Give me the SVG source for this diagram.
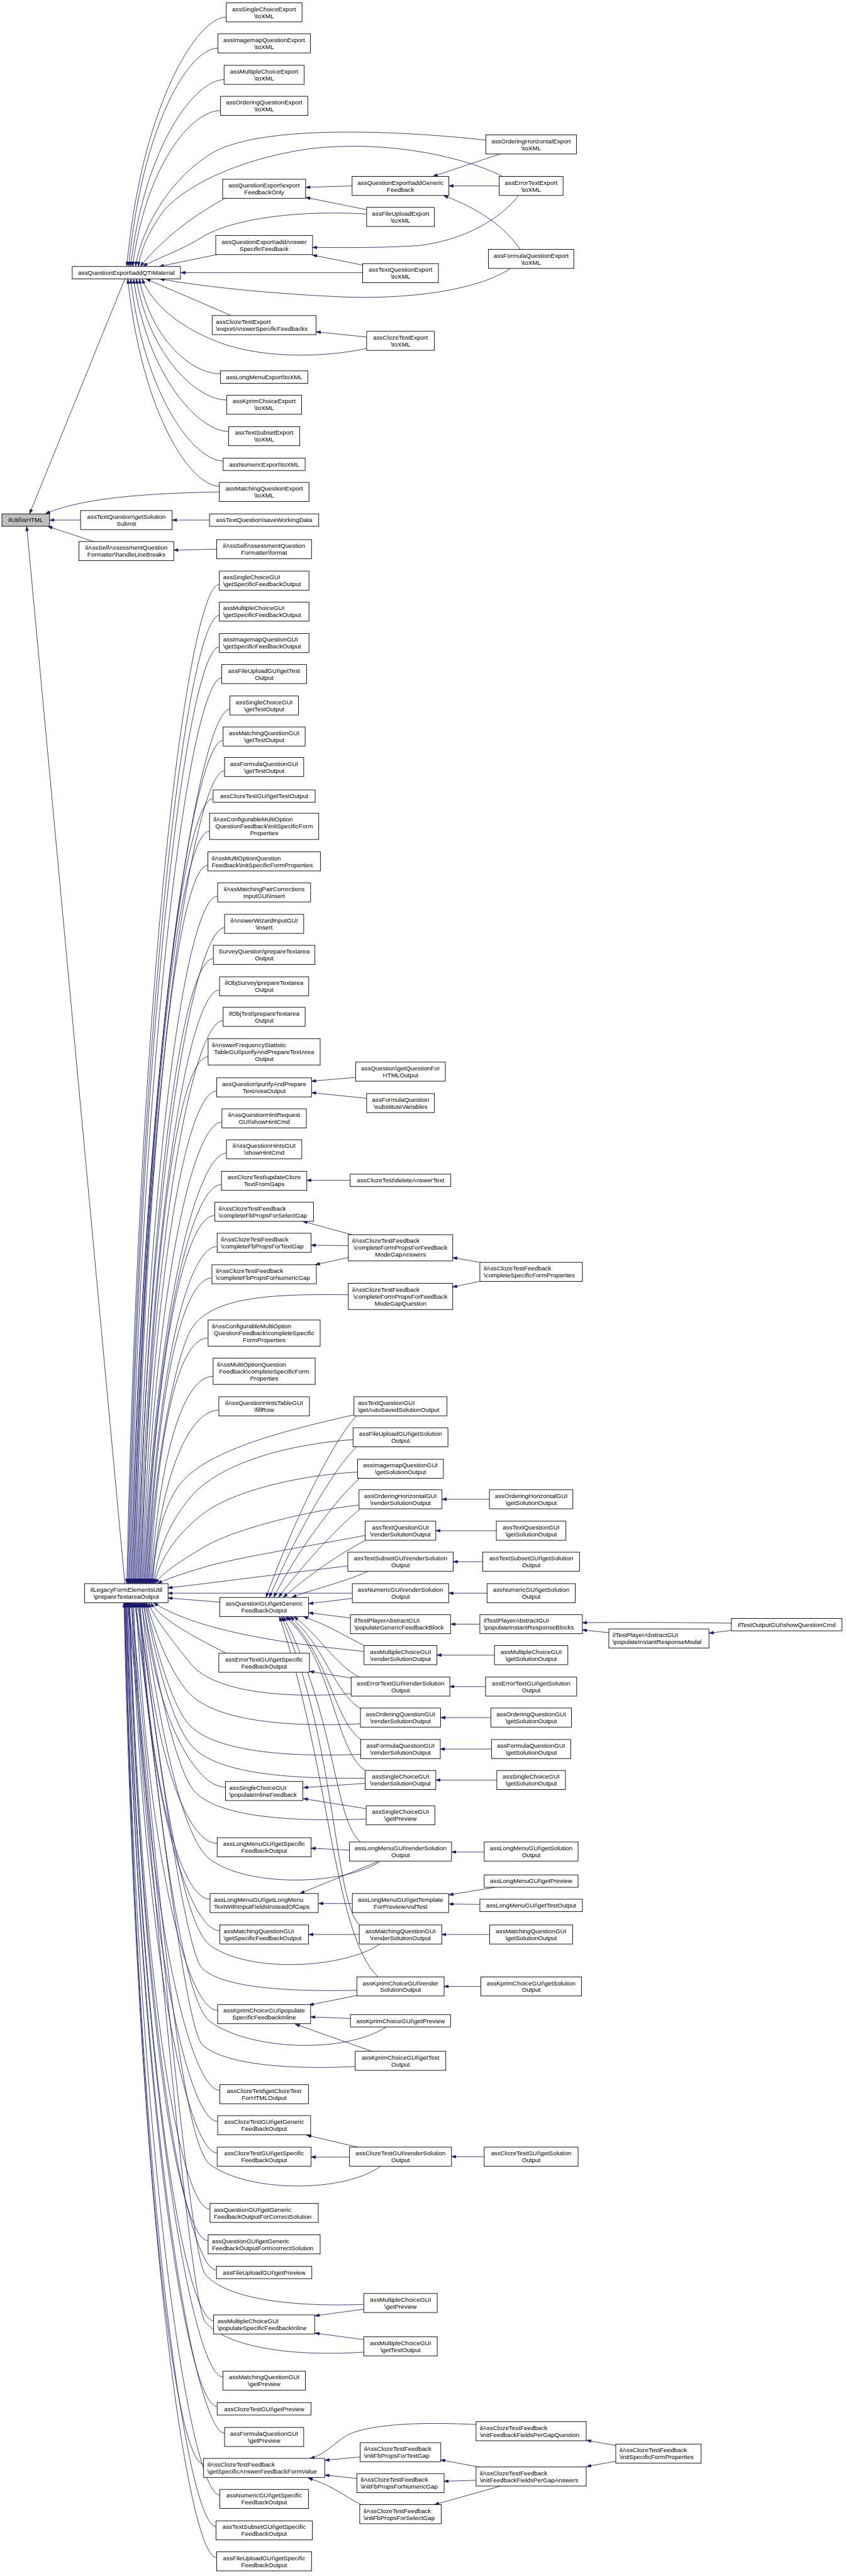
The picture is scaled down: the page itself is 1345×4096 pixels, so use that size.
<svg xmlns="http://www.w3.org/2000/svg" width="1345" height="4096" viewBox="0 0 1345 4096">
<style>
.n rect{fill:#fff;stroke:#000;stroke-width:1.2}
.root rect{fill:#bfbfbf}
.n text{font-family:"Liberation Sans",Arial,Helvetica,sans-serif;font-size:13px;fill:#000}
.n text.m{text-anchor:middle}
#edges path{fill:none;stroke:#191970;stroke-width:1.1;marker-end:url(#ah)}
</style>
<defs>
<marker id="ah" viewBox="0 0 10 7" refX="10" refY="3.5" markerWidth="10" markerHeight="7" orient="auto" markerUnits="userSpaceOnUse"><path d="M0,0 L10,3.5 L0,7 z" fill="#191970" stroke="#191970" stroke-width="0.5"/></marker>
</defs>
<rect width="1345" height="4096" fill="#fff"/>
<g transform="scale(0.758)">
<g id="edges">
<path d="M474,36 C414,36 297,219 266,559"/>
<path d="M457,101 C397,101 298,261 270,559"/>
<path d="M470,167 C410,167 303,304 274,559"/>
<path d="M462,232 C402,232 306,346 278,559"/>
<path d="M1019,294 C850,275 560,260 450,318 C360,370 300,470 284,559"/>
<path d="M1053,369 C950,320 790,295 650,312 C520,330 400,380 345,440 C315,480 296,520 290,559"/>
<path d="M472,416 C430,440 360,480 294,559"/>
<path d="M769,449 C620,440 480,460 420,500 C370,530 320,545 300,559"/>
<path d="M455,534 L334,559"/>
<path d="M760,572 L379,572"/>
<path d="M1071,563 C1000,610 850,630 700,622 C560,615 430,602 335,585"/>
<path d="M485,662 L306,585"/>
<path d="M769,731 C680,750 560,752 470,722 C380,690 320,640 298,585"/>
<path d="M462,784 C402,784 319,714 292,585"/>
<path d="M475,839 C415,839 314,750 286,585"/>
<path d="M479,905 C419,905 310,793 280,585"/>
<path d="M468,967 C408,967 303,833 274,585"/>
<path d="M460,1020 C400,1020 297,868 268,585"/>
<path d="M460,1032 C300,1035 170,1045 95,1078"/>
<path d="M262,585 L62,1078"/>
<path d="M169,1091 L104,1091"/>
<path d="M196,1136 L100,1104"/>
<path d="M262,3322 L56,1104"/>
<path d="M738,390 L641,393"/>
<path d="M769,440 L641,414"/>
<path d="M1049,323 L908,370"/>
<path d="M1047,390 L941,390"/>
<path d="M1091,523 C1060,478 1010,440 930,410"/>
<path d="M1088,410 C1040,470 960,505 880,515 C790,521 700,519 655,519"/>
<path d="M760,556 L655,535"/>
<path d="M769,707 L663,696"/>
<path d="M454,1152 L364,1154"/>
<path d="M439,1091 L361,1091"/>
<path d="M746,2260 L653,2268"/>
<path d="M769,2304 L653,2292"/>
<path d="M734,2476 L643,2476"/>
<path d="M738,2590 L635,2562"/>
<path d="M730,2613 L652,2612"/>
<path d="M730,2638 L661,2653"/>
<path d="M1006,2648 L949,2638"/>
<path d="M1006,2688 L949,2700"/>
<path d="M1026,3145 L927,3145"/>
<path d="M1041,3211 L914,3211"/>
<path d="M1012,3276 L950,3276"/>
<path d="M1021,3342 L941,3342"/>
<path d="M1006,3407 L945,3407"/>
<path d="M1037,3472 L916,3472"/>
<path d="M1018,3538 L943,3538"/>
<path d="M1029,3603 L924,3603"/>
<path d="M1031,3669 L923,3669"/>
<path d="M1042,3734 L914,3734"/>
<path d="M1534,3405 C1400,3403 1300,3403 1221,3404"/>
<path d="M1277,3425 L1221,3419"/>
<path d="M1534,3420 L1487,3426"/>
<path d="M1015,3885 L947,3885"/>
<path d="M1038,3959 L941,3975"/>
<path d="M1006,3995 L941,3994"/>
<path d="M1027,4058 L926,4058"/>
<path d="M1008,4167 L931,4167"/>
<path d="M1015,4524 L947,4524"/>
<path d="M733,3881 L652,3877"/>
<path d="M793,3905 L629,3972"/>
<path d="M739,3993 L668,3993"/>
<path d="M753,4058 L647,4058"/>
<path d="M748,4186 L648,4206"/>
<path d="M735,4234 L651,4231"/>
<path d="M780,4303 L619,4246"/>
<path d="M750,4504 L643,4479"/>
<path d="M733,4525 L652,4525"/>
<path d="M763,4844 L660,4858"/>
<path d="M763,4908 L660,4894"/>
<path d="M998,5086 C880,5080 770,5085 725,5110 C695,5130 680,5150 650,5157"/>
<path d="M755,5154 L681,5161"/>
<path d="M748,5199 L681,5192"/>
<path d="M757,5254 C720,5235 700,5215 646,5198"/>
<path d="M1004,5175 L924,5160"/>
<path d="M999,5203 L931,5205"/>
<path d="M1050,5215 L911,5254"/>
<path d="M1292,5130 L1230,5119"/>
<path d="M1292,5163 L1230,5174"/>
<path d="M461,3361 L352,3352"/>
<path d="M739,3353 L647,3364"/>
<path d="M735,3394 L647,3383"/>
<path d="M748,2970 C700,3020 620,3180 558,3351"/>
<path d="M748,3035 C700,3080 620,3220 565,3351"/>
<path d="M754,3101 C700,3150 620,3260 574,3351"/>
<path d="M755,3166 C700,3210 630,3290 584,3351"/>
<path d="M767,3231 C710,3260 640,3310 594,3351"/>
<path d="M772,3296 C720,3320 650,3335 612,3351"/>
<path d="M766,3453 C720,3430 690,3410 636,3391"/>
<path d="M755,3519 C700,3490 670,3430 616,3391"/>
<path d="M757,3585 C700,3550 680,3450 608,3391"/>
<path d="M758,3650 C700,3610 690,3470 602,3391"/>
<path d="M767,3715 C700,3670 700,3480 598,3391"/>
<path d="M757,3865 C700,3820 705,3600 594,3391"/>
<path d="M755,4039 C700,3990 705,3650 590,3391"/>
<path d="M793,4147 C700,4060 690,3700 586,3391"/>
<path d="M736,3520 L649,3506"/>
<path d="M765,3741 L636,3750"/>
<path d="M767,3794 L636,3773"/>
<path d="M460,1226 C400,1226 295,1960 266,3322"/>
<path d="M460,1291 C400,1291 297,2002 268,3322"/>
<path d="M460,1357 C400,1357 298,2045 270,3322"/>
<path d="M465,1422 C405,1422 301,2087 272,3322"/>
<path d="M482,1488 C422,1488 305,2130 274,3322"/>
<path d="M468,1553 C408,1553 305,2172 276,3322"/>
<path d="M471,1617 C411,1617 307,2214 278,3322"/>
<path d="M447,1675 C387,1675 305,2251 280,3322"/>
<path d="M439,1744 C379,1744 306,2296 282,3322"/>
<path d="M436,1815 C376,1815 307,2342 284,3322"/>
<path d="M456,1880 C396,1880 312,2385 286,3322"/>
<path d="M471,1946 C411,1946 315,2428 288,3322"/>
<path d="M447,2011 C387,2011 314,2470 290,3322"/>
<path d="M460,2077 C400,2077 317,2513 292,3322"/>
<path d="M468,2141 C408,2141 320,2554 294,3322"/>
<path d="M436,2217 C376,2217 317,2604 296,3322"/>
<path d="M454,2289 C394,2289 321,2651 298,3322"/>
<path d="M465,2354 C405,2354 325,2693 300,3322"/>
<path d="M475,2419 C415,2419 328,2735 302,3322"/>
<path d="M464,2485 C404,2485 328,2778 304,3322"/>
<path d="M450,2550 C390,2550 328,2820 306,3322"/>
<path d="M455,2615 C395,2615 330,2862 308,3322"/>
<path d="M444,2681 C384,2681 330,2905 310,3322"/>
<path d="M730,2716 C560,2714 430,2720 395,2800 S320,3100 312,3322"/>
<path d="M436,2807 C376,2807 332,2987 314,3322"/>
<path d="M447,2887 C387,2887 336,3039 316,3322"/>
<path d="M459,2958 C399,2958 339,3085 318,3322"/>
<path d="M742,2968 C600,3000 440,3040 380,3110 C340,3160 325,3240 320,3322"/>
<path d="M740,3020 C600,3030 460,3070 400,3140 C350,3200 330,3260 322,3322"/>
<path d="M750,3088 C620,3095 480,3130 420,3180 C370,3220 335,3270 324,3322"/>
<path d="M753,3157 C640,3170 480,3210 420,3250 C370,3280 340,3300 326,3322"/>
<path d="M765,3221 C640,3245 480,3270 420,3290 C380,3302 350,3312 330,3322"/>
<path d="M729,3285 C600,3300 450,3320 352,3331"/>
<path d="M739,3342 L352,3342"/>
<path d="M763,3464 C620,3450 420,3425 322,3362"/>
<path d="M474,3468 C420,3440 340,3400 316,3362"/>
<path d="M736,3553 C560,3565 440,3540 400,3490 S320,3390 312,3362"/>
<path d="M755,3616 C560,3625 440,3600 395,3550 S318,3400 308,3362"/>
<path d="M756,3680 C560,3688 430,3665 390,3610 S316,3410 306,3362"/>
<path d="M765,3730 C600,3732 450,3720 400,3660 S316,3420 304,3362"/>
<path d="M473,3749 C413,3749 328,3614 302,3362"/>
<path d="M767,3816 C600,3822 460,3810 410,3760 S312,3420 300,3362"/>
<path d="M455,3867 C395,3867 322,3690 298,3362"/>
<path d="M797,3905 C720,3955 520,3960 440,3900 S310,3430 296,3362"/>
<path d="M441,3984 C381,3984 316,3766 294,3362"/>
<path d="M461,4050 C401,4050 317,3809 292,3362"/>
<path d="M797,4078 C720,4130 520,4140 440,4080 S306,3440 290,3362"/>
<path d="M748,4175 C600,4178 470,4170 425,4130 S304,3450 288,3362"/>
<path d="M456,4217 C396,4217 312,3918 286,3362"/>
<path d="M810,4252 C720,4310 520,4300 440,4240 S302,3460 284,3362"/>
<path d="M745,4335 C600,4342 470,4330 425,4290 S300,3470 282,3362"/>
<path d="M461,4385 C401,4385 307,4027 280,3362"/>
<path d="M456,4450 C396,4450 305,4069 278,3362"/>
<path d="M455,4516 C395,4516 303,4112 276,3362"/>
<path d="M797,4545 C720,4600 520,4600 440,4540 S294,3480 274,3362"/>
<path d="M440,4634 C380,4634 297,4189 272,3362"/>
<path d="M436,4700 C376,4700 296,4232 271,3362"/>
<path d="M454,4762 C394,4762 298,4272 270,3362"/>
<path d="M763,4834 C600,4840 470,4820 430,4770 S290,3500 269,3362"/>
<path d="M448,4868 C388,4868 295,4341 268,3362"/>
<path d="M763,4934 C600,4945 470,4920 430,4870 S288,3510 267,3362"/>
<path d="M467,4986 C407,4986 296,4418 266,3362"/>
<path d="M455,5048 C395,5048 294,4458 265,3362"/>
<path d="M471,5104 C411,5104 295,4494 264,3362"/>
<path d="M427,5169 C367,5169 288,4537 263,3362"/>
<path d="M461,5234 C401,5234 292,4579 262,3362"/>
<path d="M453,5300 C393,5300 290,4622 261,3362"/>
<path d="M454,5365 C394,5365 289,4664 260,3362"/>
</g>
<g id="nodes">
<g id="n1" class="n"><rect x="474.5" y="6" width="159" height="40"/><text class="m" x="554" y="23.25">assSingleChoiceExport</text><text class="m" x="554" y="37.75">\toXML</text></g>
<g id="n2" class="n"><rect x="457" y="71" width="194" height="40"/><text class="m" x="554" y="88.25">assImagemapQuestionExport</text><text class="m" x="554" y="102.75">\toXML</text></g>
<g id="n3" class="n"><rect x="470" y="137" width="168" height="40"/><text class="m" x="554" y="154.25">assMultipleChoiceExport</text><text class="m" x="554" y="168.75">\toXML</text></g>
<g id="n4" class="n"><rect x="462.5" y="202" width="183" height="40"/><text class="m" x="554" y="219.25">assOrderingQuestionExport</text><text class="m" x="554" y="233.75">\toXML</text></g>
<g id="n5" class="n"><rect x="1019" y="283" width="190" height="40"/><text class="m" x="1114" y="300.25">assOrderingHorizontalExport</text><text class="m" x="1114" y="314.75">\toXML</text></g>
<g id="n6" class="n"><rect x="738.5" y="370" width="203" height="40"/><text class="m" x="840" y="387.25">assQuestionExport\addGeneric</text><text class="m" x="840" y="401.75">Feedback</text></g>
<g id="n7" class="n"><rect x="1047" y="370" width="134" height="40"/><text class="m" x="1114" y="387.25">assErrorTextExport</text><text class="m" x="1114" y="401.75">\toXML</text></g>
<g id="n8" class="n"><rect x="467" y="376" width="174" height="40"/><text class="m" x="554" y="393.25">assQuestionExport\export</text><text class="m" x="554" y="407.75">FeedbackOnly</text></g>
<g id="n9" class="n"><rect x="769" y="435" width="142" height="40"/><text class="m" x="840" y="452.25">assFileUploadExport</text><text class="m" x="840" y="466.75">\toXML</text></g>
<g id="n10" class="n"><rect x="452.5" y="494" width="203" height="40"/><text class="m" x="554" y="511.25">assQuestionExport\addAnswer</text><text class="m" x="554" y="525.75">SpecificFeedback</text></g>
<g id="n11" class="n"><rect x="1024.5" y="523" width="179" height="40"/><text class="m" x="1114" y="540.25">assFormulaQuestionExport</text><text class="m" x="1114" y="554.75">\toXML</text></g>
<g id="n12" class="n"><rect x="760.5" y="553" width="159" height="40"/><text class="m" x="840" y="570.25">assTextQuestionExport</text><text class="m" x="840" y="584.75">\toXML</text></g>
<g id="n13" class="n"><rect x="151.5" y="559" width="227" height="26"/><text class="m" x="265" y="576.5">assQuestionExport\addQTIMaterial</text></g>
<g id="n14" class="n"><rect x="445" y="662" width="218" height="40"/><text x="453" y="679.25">assClozeTestExport</text><text x="453" y="693.75">\exportAnswerSpecificFeedbacks</text></g>
<g id="n15" class="n"><rect x="769" y="695" width="142" height="40"/><text class="m" x="840" y="712.25">assClozeTestExport</text><text class="m" x="840" y="726.75">\toXML</text></g>
<g id="n16" class="n"><rect x="462.5" y="778" width="183" height="26"/><text class="m" x="554" y="795.5">assLongMenuExport\toXML</text></g>
<g id="n17" class="n"><rect x="475.5" y="829" width="157" height="40"/><text class="m" x="554" y="846.25">assKprimChoiceExport</text><text class="m" x="554" y="860.75">\toXML</text></g>
<g id="n18" class="n"><rect x="479.5" y="895" width="149" height="40"/><text class="m" x="554" y="912.25">assTextSubsetExport</text><text class="m" x="554" y="926.75">\toXML</text></g>
<g id="n19" class="n"><rect x="468" y="961" width="172" height="26"/><text class="m" x="554" y="978.5">assNumericExport\toXML</text></g>
<g id="n20" class="n"><rect x="460" y="1012" width="188" height="40"/><text class="m" x="554" y="1029.25">assMatchingQuestionExport</text><text class="m" x="554" y="1043.75">\toXML</text></g>
<g id="n21" class="n root"><rect x="4" y="1078" width="100" height="26"/><text class="m" x="54" y="1095.5">ilUtil\isHTML</text></g>
<g id="n22" class="n"><rect x="169" y="1071" width="192" height="40"/><text class="m" x="265" y="1088.25">assTextQuestion\getSolution</text><text class="m" x="265" y="1102.75">Submit</text></g>
<g id="n23" class="n"><rect x="439.5" y="1078" width="229" height="26"/><text class="m" x="554" y="1095.5">assTextQuestion\saveWorkingData</text></g>
<g id="n24" class="n"><rect x="165.5" y="1136" width="199" height="40"/><text class="m" x="265" y="1153.25">ilAssSelfAssessmentQuestion</text><text class="m" x="265" y="1167.75">Formatter\handleLineBreaks</text></g>
<g id="n25" class="n"><rect x="454.5" y="1132" width="199" height="40"/><text class="m" x="554" y="1149.25">ilAssSelfAssessmentQuestion</text><text class="m" x="554" y="1163.75">Formatter\format</text></g>
<g id="n26" class="n"><rect x="460" y="1198" width="188" height="40"/><text x="468" y="1215.25">assSingleChoiceGUI</text><text x="468" y="1229.75">\getSpecificFeedbackOutput</text></g>
<g id="n27" class="n"><rect x="460" y="1263" width="188" height="40"/><text x="468" y="1280.25">assMultipleChoiceGUI</text><text x="468" y="1294.75">\getSpecificFeedbackOutput</text></g>
<g id="n28" class="n"><rect x="460" y="1329" width="188" height="40"/><text x="468" y="1346.25">assImagemapQuestionGUI</text><text x="468" y="1360.75">\getSpecificFeedbackOutput</text></g>
<g id="n29" class="n"><rect x="465" y="1394" width="178" height="40"/><text class="m" x="554" y="1411.25">assFileUploadGUI\getTest</text><text class="m" x="554" y="1425.75">Output</text></g>
<g id="n30" class="n"><rect x="482" y="1460" width="144" height="40"/><text class="m" x="554" y="1477.25">assSingleChoiceGUI</text><text class="m" x="554" y="1491.75">\getTestOutput</text></g>
<g id="n31" class="n"><rect x="468" y="1525" width="172" height="40"/><text class="m" x="554" y="1542.25">assMatchingQuestionGUI</text><text class="m" x="554" y="1556.75">\getTestOutput</text></g>
<g id="n32" class="n"><rect x="471" y="1589" width="166" height="40"/><text class="m" x="554" y="1606.25">assFormulaQuestionGUI</text><text class="m" x="554" y="1620.75">\getTestOutput</text></g>
<g id="n33" class="n"><rect x="447" y="1657" width="214" height="26"/><text class="m" x="554" y="1674.5">assClozeTestGUI\getTestOutput</text></g>
<g id="n34" class="n"><rect x="439.5" y="1706" width="229" height="55"/><text x="447.5" y="1723.5">ilAssConfigurableMultiOption</text><text class="m" x="554" y="1738">QuestionFeedback\initSpecificForm</text><text class="m" x="554" y="1752.5">Properties</text></g>
<g id="n35" class="n"><rect x="436" y="1787" width="236" height="40"/><text x="444" y="1804.25">ilAssMultiOptionQuestion</text><text x="444" y="1818.75">Feedback\initSpecificFormProperties</text></g>
<g id="n36" class="n"><rect x="456.5" y="1852" width="195" height="40"/><text class="m" x="554" y="1869.25">ilAssMatchingPairCorrections</text><text class="m" x="554" y="1883.75">InputGUI\insert</text></g>
<g id="n37" class="n"><rect x="471" y="1918" width="166" height="40"/><text class="m" x="554" y="1935.25">ilAnswerWizardInputGUI</text><text class="m" x="554" y="1949.75">\insert</text></g>
<g id="n38" class="n"><rect x="447.5" y="1983" width="213" height="40"/><text class="m" x="554" y="2000.25">SurveyQuestion\prepareTextarea</text><text class="m" x="554" y="2014.75">Output</text></g>
<g id="n39" class="n"><rect x="460.5" y="2049" width="187" height="40"/><text class="m" x="554" y="2066.25">ilObjSurvey\prepareTextarea</text><text class="m" x="554" y="2080.75">Output</text></g>
<g id="n40" class="n"><rect x="468" y="2113" width="172" height="40"/><text class="m" x="554" y="2130.25">ilObjTest\prepareTextarea</text><text class="m" x="554" y="2144.75">Output</text></g>
<g id="n41" class="n"><rect x="436.5" y="2179" width="235" height="55"/><text x="444.5" y="2196.5">ilAnswerFrequencyStatistic</text><text class="m" x="554" y="2211">TableGUI\purifyAndPrepareTextArea</text><text class="m" x="554" y="2225.5">Output</text></g>
<g id="n42" class="n"><rect x="454.5" y="2261" width="199" height="40"/><text class="m" x="554" y="2278.25">assQuestion\purifyAndPrepare</text><text class="m" x="554" y="2292.75">TextAreaOutput</text></g>
<g id="n43" class="n"><rect x="746" y="2228" width="188" height="40"/><text class="m" x="840" y="2245.25">assQuestion\getQuestionFor</text><text class="m" x="840" y="2259.75">HTMLOutput</text></g>
<g id="n44" class="n"><rect x="769" y="2294" width="142" height="40"/><text class="m" x="840" y="2311.25">assFormulaQuestion</text><text class="m" x="840" y="2325.75">\substituteVariables</text></g>
<g id="n45" class="n"><rect x="465.5" y="2326" width="177" height="40"/><text class="m" x="554" y="2343.25">ilAssQuestionHintRequest</text><text class="m" x="554" y="2357.75">GUI\showHintCmd</text></g>
<g id="n46" class="n"><rect x="475" y="2391" width="158" height="40"/><text class="m" x="554" y="2408.25">ilAssQuestionHintsGUI</text><text class="m" x="554" y="2422.75">\showHintCmd</text></g>
<g id="n47" class="n"><rect x="464.5" y="2457" width="179" height="40"/><text class="m" x="554" y="2474.25">assClozeTest\updateCloze</text><text class="m" x="554" y="2488.75">TextFromGaps</text></g>
<g id="n48" class="n"><rect x="734.5" y="2463" width="211" height="26"/><text class="m" x="840" y="2480.5">assClozeTest\deleteAnswerText</text></g>
<g id="n49" class="n"><rect x="450.5" y="2522" width="207" height="40"/><text x="458.5" y="2539.25">ilAssClozeTestFeedback</text><text x="458.5" y="2553.75">\completeFbPropsForSelectGap</text></g>
<g id="n50" class="n"><rect x="455.5" y="2587" width="197" height="40"/><text x="463.5" y="2604.25">ilAssClozeTestFeedback</text><text x="463.5" y="2618.75">\completeFbPropsForTextGap</text></g>
<g id="n51" class="n"><rect x="730.5" y="2590" width="219" height="55"/><text x="738.5" y="2607.5">ilAssClozeTestFeedback</text><text class="m" x="840" y="2622">\completeFormPropsForFeedback</text><text class="m" x="840" y="2636.5">ModeGapAnswers</text></g>
<g id="n52" class="n"><rect x="1006.5" y="2648" width="215" height="40"/><text x="1014.5" y="2665.25">ilAssClozeTestFeedback</text><text x="1014.5" y="2679.75">\completeSpecificFormProperties</text></g>
<g id="n53" class="n"><rect x="444.5" y="2653" width="219" height="40"/><text x="452.5" y="2670.25">ilAssClozeTestFeedback</text><text x="452.5" y="2684.75">\completeFbPropsForNumericGap</text></g>
<g id="n54" class="n"><rect x="730.5" y="2692" width="219" height="55"/><text x="738.5" y="2709.5">ilAssClozeTestFeedback</text><text class="m" x="840" y="2724">\completeFormPropsForFeedback</text><text class="m" x="840" y="2738.5">ModeGapQuestion</text></g>
<g id="n55" class="n"><rect x="436.5" y="2769" width="235" height="55"/><text x="444.5" y="2786.5">ilAssConfigurableMultiOption</text><text class="m" x="554" y="2801">QuestionFeedback\completeSpecific</text><text class="m" x="554" y="2815.5">FormProperties</text></g>
<g id="n56" class="n"><rect x="447" y="2849" width="214" height="55"/><text x="455" y="2866.5">ilAssMultiOptionQuestion</text><text class="m" x="554" y="2881">Feedback\completeSpecificForm</text><text class="m" x="554" y="2895.5">Properties</text></g>
<g id="n57" class="n"><rect x="459" y="2930" width="190" height="40"/><text class="m" x="554" y="2947.25">ilAssQuestionHintsTableGUI</text><text class="m" x="554" y="2961.75">\fillRow</text></g>
<g id="n58" class="n"><rect x="742.5" y="2930" width="195" height="40"/><text x="750.5" y="2947.25">assTextQuestionGUI</text><text x="750.5" y="2961.75">\getAutoSavedSolutionOutput</text></g>
<g id="n59" class="n"><rect x="740.5" y="2995" width="199" height="40"/><text class="m" x="840" y="3012.25">assFileUploadGUI\getSolution</text><text class="m" x="840" y="3026.75">Output</text></g>
<g id="n60" class="n"><rect x="750" y="3061" width="180" height="40"/><text class="m" x="840" y="3078.25">assImagemapQuestionGUI</text><text class="m" x="840" y="3092.75">\getSolutionOutput</text></g>
<g id="n61" class="n"><rect x="753" y="3125" width="174" height="40"/><text class="m" x="840" y="3142.25">assOrderingHorizontalGUI</text><text class="m" x="840" y="3156.75">\renderSolutionOutput</text></g>
<g id="n62" class="n"><rect x="1026.5" y="3125" width="175" height="40"/><text class="m" x="1114" y="3142.25">assOrderingHorizontalGUI</text><text class="m" x="1114" y="3156.75">\getSolutionOutput</text></g>
<g id="n63" class="n"><rect x="766" y="3191" width="148" height="40"/><text class="m" x="840" y="3208.25">assTextQuestionGUI</text><text class="m" x="840" y="3222.75">\renderSolutionOutput</text></g>
<g id="n64" class="n"><rect x="1041" y="3191" width="146" height="40"/><text class="m" x="1114" y="3208.25">assTextQuestionGUI</text><text class="m" x="1114" y="3222.75">\getSolutionOutput</text></g>
<g id="n65" class="n"><rect x="729.5" y="3256" width="221" height="40"/><text class="m" x="840" y="3273.25">assTextSubsetGUI\renderSolution</text><text class="m" x="840" y="3287.75">Output</text></g>
<g id="n66" class="n"><rect x="1012.5" y="3256" width="203" height="40"/><text class="m" x="1114" y="3273.25">assTextSubsetGUI\getSolution</text><text class="m" x="1114" y="3287.75">Output</text></g>
<g id="n67" class="n"><rect x="177.5" y="3322" width="175" height="40"/><text class="m" x="265" y="3339.25">ilLegacyFormElementsUtil</text><text class="m" x="265" y="3353.75">\prepareTextareaOutput</text></g>
<g id="n68" class="n"><rect x="739" y="3322" width="202" height="40"/><text class="m" x="840" y="3339.25">assNumericGUI\renderSolution</text><text class="m" x="840" y="3353.75">Output</text></g>
<g id="n69" class="n"><rect x="1021.5" y="3322" width="185" height="40"/><text class="m" x="1114" y="3339.25">assNumericGUI\getSolution</text><text class="m" x="1114" y="3353.75">Output</text></g>
<g id="n70" class="n"><rect x="461" y="3351" width="186" height="40"/><text class="m" x="554" y="3368.25">assQuestionGUI\getGeneric</text><text class="m" x="554" y="3382.75">FeedbackOutput</text></g>
<g id="n71" class="n"><rect x="735" y="3387" width="210" height="40"/><text x="743" y="3404.25">ilTestPlayerAbstractGUI</text><text x="743" y="3418.75">\populateGenericFeedbackBlock</text></g>
<g id="n72" class="n"><rect x="1006.5" y="3387" width="215" height="40"/><text x="1014.5" y="3404.25">ilTestPlayerAbstractGUI</text><text x="1014.5" y="3418.75">\populateInstantResponseBlocks</text></g>
<g id="n73" class="n"><rect x="1534" y="3395" width="232" height="26"/><text class="m" x="1650" y="3412.5">ilTestOutputGUI\showQuestionCmd</text></g>
<g id="n74" class="n"><rect x="1277" y="3417" width="210" height="40"/><text x="1285" y="3434.25">ilTestPlayerAbstractGUI</text><text x="1285" y="3448.75">\populateInstantResponseModal</text></g>
<g id="n75" class="n"><rect x="763.5" y="3452" width="153" height="40"/><text class="m" x="840" y="3469.25">assMultipleChoiceGUI</text><text class="m" x="840" y="3483.75">\renderSolutionOutput</text></g>
<g id="n76" class="n"><rect x="1037" y="3452" width="154" height="40"/><text class="m" x="1114" y="3469.25">assMultipleChoiceGUI</text><text class="m" x="1114" y="3483.75">\getSolutionOutput</text></g>
<g id="n77" class="n"><rect x="459" y="3468" width="190" height="40"/><text class="m" x="554" y="3485.25">assErrorTextGUI\getSpecific</text><text class="m" x="554" y="3499.75">FeedbackOutput</text></g>
<g id="n78" class="n"><rect x="736.5" y="3518" width="207" height="40"/><text class="m" x="840" y="3535.25">assErrorTextGUI\renderSolution</text><text class="m" x="840" y="3549.75">Output</text></g>
<g id="n79" class="n"><rect x="1018.5" y="3518" width="191" height="40"/><text class="m" x="1114" y="3535.25">assErrorTextGUI\getSolution</text><text class="m" x="1114" y="3549.75">Output</text></g>
<g id="n80" class="n"><rect x="756" y="3583" width="168" height="40"/><text class="m" x="840" y="3600.25">assOrderingQuestionGUI</text><text class="m" x="840" y="3614.75">\renderSolutionOutput</text></g>
<g id="n81" class="n"><rect x="1029.5" y="3583" width="169" height="40"/><text class="m" x="1114" y="3600.25">assOrderingQuestionGUI</text><text class="m" x="1114" y="3614.75">\getSolutionOutput</text></g>
<g id="n82" class="n"><rect x="756.5" y="3649" width="167" height="40"/><text class="m" x="840" y="3666.25">assFormulaQuestionGUI</text><text class="m" x="840" y="3680.75">\renderSolutionOutput</text></g>
<g id="n83" class="n"><rect x="1031" y="3649" width="166" height="40"/><text class="m" x="1114" y="3666.25">assFormulaQuestionGUI</text><text class="m" x="1114" y="3680.75">\getSolutionOutput</text></g>
<g id="n84" class="n"><rect x="766" y="3714" width="148" height="40"/><text class="m" x="840" y="3731.25">assSingleChoiceGUI</text><text class="m" x="840" y="3745.75">\renderSolutionOutput</text></g>
<g id="n85" class="n"><rect x="1042" y="3714" width="144" height="40"/><text class="m" x="1114" y="3731.25">assSingleChoiceGUI</text><text class="m" x="1114" y="3745.75">\getSolutionOutput</text></g>
<g id="n86" class="n"><rect x="473" y="3737" width="162" height="40"/><text x="481" y="3754.25">assSingleChoiceGUI</text><text x="481" y="3768.75">\populateInlineFeedback</text></g>
<g id="n87" class="n"><rect x="768" y="3788" width="144" height="40"/><text class="m" x="840" y="3805.25">assSingleChoiceGUI</text><text class="m" x="840" y="3819.75">\getPreview</text></g>
<g id="n88" class="n"><rect x="455.5" y="3855" width="197" height="40"/><text class="m" x="554" y="3872.25">assLongMenuGUI\getSpecific</text><text class="m" x="554" y="3886.75">FeedbackOutput</text></g>
<g id="n89" class="n"><rect x="733" y="3864" width="214" height="40"/><text class="m" x="840" y="3881.25">assLongMenuGUI\renderSolution</text><text class="m" x="840" y="3895.75">Output</text></g>
<g id="n90" class="n"><rect x="1015.5" y="3864" width="197" height="40"/><text class="m" x="1114" y="3881.25">assLongMenuGUI\getSolution</text><text class="m" x="1114" y="3895.75">Output</text></g>
<g id="n91" class="n"><rect x="1015.5" y="3933" width="197" height="26"/><text class="m" x="1114" y="3950.5">assLongMenuGUI\getPreview</text></g>
<g id="n92" class="n"><rect x="440.5" y="3972" width="227" height="40"/><text x="448.5" y="3989.25">assLongMenuGUI\getLongMenu</text><text x="448.5" y="4003.75">TextWithInputFieldsInsteadOfGaps</text></g>
<g id="n93" class="n"><rect x="739" y="3972" width="202" height="40"/><text class="m" x="840" y="3989.25">assLongMenuGUI\getTemplate</text><text class="m" x="840" y="4003.75">ForPreviewAndTest</text></g>
<g id="n94" class="n"><rect x="1006.5" y="3984" width="215" height="26"/><text class="m" x="1114" y="4001.5">assLongMenuGUI\getTestOutput</text></g>
<g id="n95" class="n"><rect x="461" y="4038" width="186" height="40"/><text x="469" y="4055.25">assMatchingQuestionGUI</text><text x="469" y="4069.75">\getSpecificFeedbackOutput</text></g>
<g id="n96" class="n"><rect x="753.5" y="4038" width="173" height="40"/><text class="m" x="840" y="4055.25">assMatchingQuestionGUI</text><text class="m" x="840" y="4069.75">\renderSolutionOutput</text></g>
<g id="n97" class="n"><rect x="1027" y="4038" width="174" height="40"/><text class="m" x="1114" y="4055.25">assMatchingQuestionGUI</text><text class="m" x="1114" y="4069.75">\getSolutionOutput</text></g>
<g id="n98" class="n"><rect x="748.5" y="4147" width="183" height="40"/><text class="m" x="840" y="4164.25">assKprimChoiceGUI\render</text><text class="m" x="840" y="4178.75">SolutionOutput</text></g>
<g id="n99" class="n"><rect x="1008.5" y="4147" width="211" height="40"/><text class="m" x="1114" y="4164.25">assKprimChoiceGUI\getSolution</text><text class="m" x="1114" y="4178.75">Output</text></g>
<g id="n100" class="n"><rect x="456.5" y="4205" width="195" height="40"/><text class="m" x="554" y="4222.25">assKprimChoiceGUI\populate</text><text class="m" x="554" y="4236.75">SpecificFeedbackInline</text></g>
<g id="n101" class="n"><rect x="735" y="4226" width="210" height="26"/><text class="m" x="840" y="4243.5">assKprimChoiceGUI\getPreview</text></g>
<g id="n102" class="n"><rect x="745" y="4303" width="190" height="40"/><text class="m" x="840" y="4320.25">assKprimChoiceGUI\getTest</text><text class="m" x="840" y="4334.75">Output</text></g>
<g id="n103" class="n"><rect x="461" y="4373" width="186" height="40"/><text class="m" x="554" y="4390.25">assClozeTest\getClozeText</text><text class="m" x="554" y="4404.75">ForHTMLOutput</text></g>
<g id="n104" class="n"><rect x="456.5" y="4438" width="195" height="40"/><text class="m" x="554" y="4455.25">assClozeTestGUI\getGeneric</text><text class="m" x="554" y="4469.75">FeedbackOutput</text></g>
<g id="n105" class="n"><rect x="455.5" y="4504" width="197" height="40"/><text class="m" x="554" y="4521.25">assClozeTestGUI\getSpecific</text><text class="m" x="554" y="4535.75">FeedbackOutput</text></g>
<g id="n106" class="n"><rect x="733" y="4504" width="214" height="40"/><text class="m" x="840" y="4521.25">assClozeTestGUI\renderSolution</text><text class="m" x="840" y="4535.75">Output</text></g>
<g id="n107" class="n"><rect x="1015.5" y="4504" width="197" height="40"/><text class="m" x="1114" y="4521.25">assClozeTestGUI\getSolution</text><text class="m" x="1114" y="4535.75">Output</text></g>
<g id="n108" class="n"><rect x="440.5" y="4622" width="227" height="40"/><text x="448.5" y="4639.25">assQuestionGUI\getGeneric</text><text x="448.5" y="4653.75">FeedbackOutputForCorrectSolution</text></g>
<g id="n109" class="n"><rect x="436.5" y="4688" width="235" height="40"/><text x="444.5" y="4705.25">assQuestionGUI\getGeneric</text><text x="444.5" y="4719.75">FeedbackOutputForIncorrectSolution</text></g>
<g id="n110" class="n"><rect x="454" y="4754" width="200" height="26"/><text class="m" x="554" y="4771.5">assFileUploadGUI\getPreview</text></g>
<g id="n111" class="n"><rect x="763" y="4811" width="154" height="40"/><text class="m" x="840" y="4828.25">assMultipleChoiceGUI</text><text class="m" x="840" y="4842.75">\getPreview</text></g>
<g id="n112" class="n"><rect x="448" y="4856" width="212" height="40"/><text x="456" y="4873.25">assMultipleChoiceGUI</text><text x="456" y="4887.75">\populateSpecificFeedbackInline</text></g>
<g id="n113" class="n"><rect x="763" y="4902" width="154" height="40"/><text class="m" x="840" y="4919.25">assMultipleChoiceGUI</text><text class="m" x="840" y="4933.75">\getTestOutput</text></g>
<g id="n114" class="n"><rect x="467.5" y="4974" width="173" height="40"/><text class="m" x="554" y="4991.25">assMatchingQuestionGUI</text><text class="m" x="554" y="5005.75">\getPreview</text></g>
<g id="n115" class="n"><rect x="455.5" y="5040" width="197" height="26"/><text class="m" x="554" y="5057.5">assClozeTestGUI\getPreview</text></g>
<g id="n116" class="n"><rect x="471" y="5092" width="166" height="40"/><text class="m" x="554" y="5109.25">assFormulaQuestionGUI</text><text class="m" x="554" y="5123.75">\getPreview</text></g>
<g id="n117" class="n"><rect x="427" y="5157" width="254" height="40"/><text x="435" y="5174.25">ilAssClozeTestFeedback</text><text x="435" y="5188.75">\getSpecificAnswerFeedbackFormValue</text></g>
<g id="n118" class="n"><rect x="755.5" y="5124" width="169" height="40"/><text x="763.5" y="5141.25">ilAssClozeTestFeedback</text><text x="763.5" y="5155.75">\initFbPropsForTextGap</text></g>
<g id="n119" class="n"><rect x="748.5" y="5189" width="183" height="40"/><text x="756.5" y="5206.25">ilAssClozeTestFeedback</text><text x="756.5" y="5220.75">\initFbPropsForNumericGap</text></g>
<g id="n120" class="n"><rect x="754.5" y="5254" width="171" height="40"/><text x="762.5" y="5271.25">ilAssClozeTestFeedback</text><text x="762.5" y="5285.75">\initFbPropsForSelectGap</text></g>
<g id="n121" class="n"><rect x="461" y="5222" width="186" height="40"/><text class="m" x="554" y="5239.25">assNumericGUI\getSpecific</text><text class="m" x="554" y="5253.75">FeedbackOutput</text></g>
<g id="n122" class="n"><rect x="453" y="5288" width="202" height="40"/><text class="m" x="554" y="5305.25">assTextSubsetGUI\getSpecific</text><text class="m" x="554" y="5319.75">FeedbackOutput</text></g>
<g id="n123" class="n"><rect x="454.5" y="5353" width="199" height="40"/><text class="m" x="554" y="5370.25">assFileUploadGUI\getSpecific</text><text class="m" x="554" y="5384.75">FeedbackOutput</text></g>
<g id="n124" class="n"><rect x="998.5" y="5080" width="231" height="40"/><text x="1006.5" y="5097.25">ilAssClozeTestFeedback</text><text x="1006.5" y="5111.75">\initFeedbackFieldsPerGapQuestion</text></g>
<g id="n125" class="n"><rect x="1291.5" y="5127" width="179" height="40"/><text x="1299.5" y="5144.25">ilAssClozeTestFeedback</text><text x="1299.5" y="5158.75">\initSpecificFormProperties</text></g>
<g id="n126" class="n"><rect x="998.5" y="5175" width="231" height="40"/><text x="1006.5" y="5192.25">ilAssClozeTestFeedback</text><text x="1006.5" y="5206.75">\initFeedbackFieldsPerGapAnswers</text></g>
</g>
</g>
</svg>
